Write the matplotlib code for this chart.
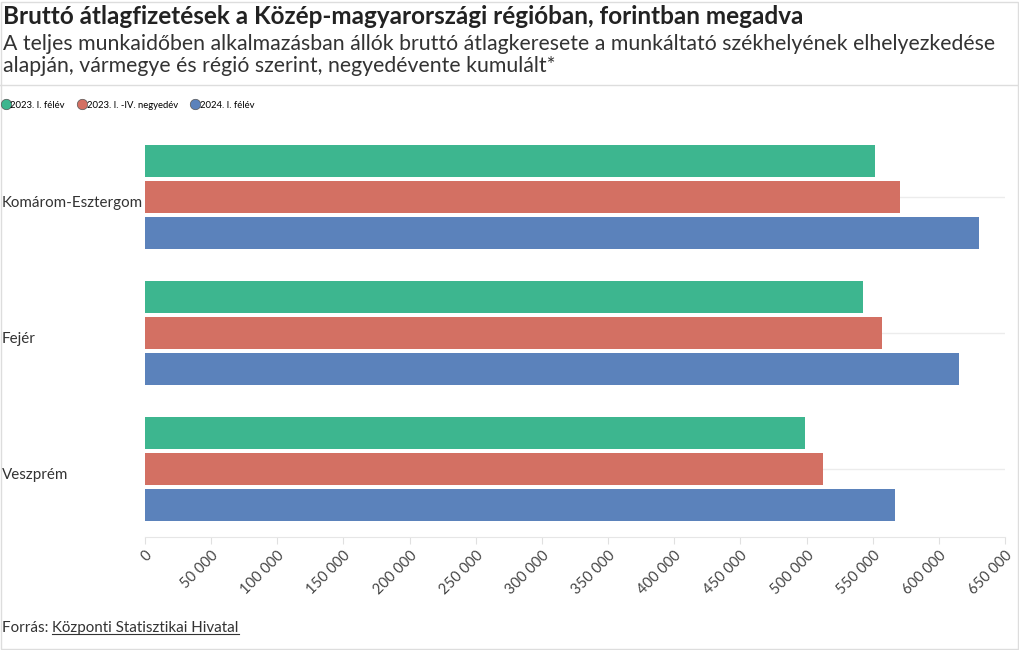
import matplotlib
matplotlib.use("Agg")
import matplotlib.pyplot as plt
import matplotlib.transforms as mtransforms
from matplotlib.lines import Line2D
import numpy as np

plt.rcParams['font.family'] = ['Lato', 'DejaVu Sans']

# data
megyek = ['Komárom-Esztergom', 'Fejér', 'Veszprém']
sorozatok = ['2023. I. félév', '2023. I. -IV. negyedév', '2024. I. félév']
felev_2023 = [552000, 542300, 498800]
ev_2023 = [570800, 557400, 512400]
felev_2024 = [630600, 615500, 567000]
szinek = ['#3db68f', '#d37063', '#5b82bb']
tick_ertekek = list(range(0, 650001, 50000))

W, H = 1020, 650
fig = plt.figure(figsize=(W / 100, H / 100), dpi=100)

# frame lines
fig.add_artist(Line2D([0, 1], [1 - 85 / H, 1 - 85 / H], color='#dddddd', lw=1, transform=fig.transFigure))
fig.add_artist(plt.Rectangle((0.5 / W, 1.5 / H), 1 - 2.5 / W, 1 - 3 / H, fill=False,
                             edgecolor='#dddddd', lw=1, transform=fig.transFigure))

fig.text(3 / W, 1 - 17 / H, 'Bruttó átlagfizetések a Közép-magyarországi régióban, forintban megadva',
         fontsize=17.5, fontweight='bold', color='#222222', va='center', ha='left')
fig.text(3 / W, 1 - 44 / H, 'A teljes munkaidőben alkalmazásban állók bruttó átlagkeresete a munkáltató székhelyének elhelyezkedése',
         fontsize=15.3, color='#333333', va='center', ha='left')
fig.text(3 / W, 1 - 66 / H, 'alapján, vármegye és régió szerint, negyedévente kumulált*',
         fontsize=15.3, color='#333333', va='center', ha='left')

ax = fig.add_axes([145 / W, (H - 537) / H, 860 / W, 408 / H])

y = np.arange(len(megyek))
h = 0.235
off = 0.265
for i, (vals, c) in enumerate(zip([felev_2023, ev_2023, felev_2024], szinek)):
    ax.barh(y + (i - 1) * off, vals, height=h, color=c, zorder=3, label=sorozatok[i])

ax.set_ylim(2.5, -0.5)
ax.set_xlim(0, 650000)
ax.set_yticks(y)
ax.set_yticklabels([])
ax.tick_params(axis='y', length=0)
ax.grid(axis='y', color='#ececec', lw=1, zorder=0)
ax.set_xticks(tick_ertekek)
ax.set_xticklabels([f'{v:,}'.replace(',', ' ') for v in tick_ertekek],
                   rotation=45, ha='right', rotation_mode='anchor', fontsize=10.5, color='#444444')
ax.tick_params(axis='x', length=5, color='#e0e0e0', pad=3)
for s in ['top', 'right', 'left']:
    ax.spines[s].set_visible(False)
ax.spines['bottom'].set_color('#e6e6e6')

trans = mtransforms.blended_transform_factory(fig.transFigure, ax.transData)
for yi, nev in zip(y, megyek):
    ax.text(2 / W, yi + 0.045, nev, transform=trans, fontsize=10.9, color='#333333',
            va='center', ha='left')

handles = [Line2D([], [], marker='o', ls='', markersize=7.5, markerfacecolor=c,
                  markeredgecolor='#555555', markeredgewidth=0.5) for c in szinek]
fig.legend(handles, sorozatok, loc='center left', bbox_to_anchor=(1 / W, 1 - 105 / H),
           ncol=3, frameon=False, fontsize=6.8, handletextpad=0.0, columnspacing=1.3,
           handlelength=1.0, borderaxespad=0, borderpad=0)

t1 = fig.text(2 / W, 1 - 628 / H, 'Forrás: ', fontsize=10.9, color='#333333', va='center', ha='left')
fig.canvas.draw()
r = fig.canvas.get_renderer()
bb = t1.get_window_extent(r)
t2 = fig.text(bb.x1 / W, 1 - 628 / H, 'Központi Statisztikai Hivatal', fontsize=10.9,
              color='#333333', va='center', ha='left')
bb2 = t2.get_window_extent(r)
fig.add_artist(Line2D([bb2.x0 / W, bb2.x1 / W], [(bb2.y0 + 1) / H] * 2, color='#333333', lw=0.8,
                      transform=fig.transFigure))

fig.savefig('out.png', dpi=100)
